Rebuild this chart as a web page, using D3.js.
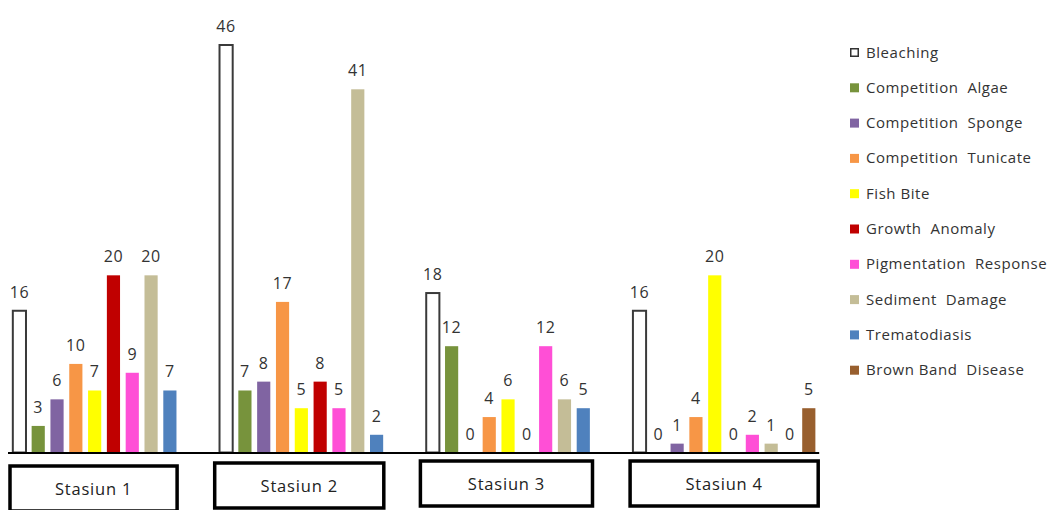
<!DOCTYPE html>
<html>
<head>
<meta charset="utf-8">
<script src="https://cdn.jsdelivr.net/npm/d3@7"></script>
<style>
  html, body { margin: 0; padding: 0; background: #fff; }
  svg { display: block; }
  text { font-family: "Open Sans", "Liberation Sans", sans-serif; }
</style>
</head>
<body>
<svg id="chart" width="1051" height="510"></svg>
<script>
// ---- data ----
const categories = ["Stasiun 1", "Stasiun 2", "Stasiun 3", "Stasiun 4"];
const seriesNames = ["Bleaching", "Competition  Algae", "Competition  Sponge", "Competition  Tunicate",
  "Fish Bite", "Growth  Anomaly", "Pigmentation  Response", "Sediment  Damage", "Trematodiasis", "Brown Band  Disease"];
const bleaching = [16, 46, 18, 16];
const competitionAlgae = [3, 7, 12, 0];
const competitionSponge = [6, 8, 0, 1];
const competitionTunicate = [10, 17, 4, 4];
const fishBite = [7, 5, 6, 20];
const growthAnomaly = [20, 8, 0, 0];
const pigmentationResponse = [9, 5, 12, 2];
const sedimentDamage = [20, 41, 6, 1];
const trematodiasis = [7, 2, 5, 0];
const brownBandDisease = [null, null, null, 5];
const seriesValues = [bleaching, competitionAlgae, competitionSponge, competitionTunicate,
  fishBite, growthAnomaly, pigmentationResponse, sedimentDamage, trematodiasis, brownBandDisease];
const colors = ["#ffffff", "#77933C", "#8064A2", "#F79646", "#FFFF00", "#C00000", "#FF4FD6", "#C4BD97", "#4F81BD", "#985F2E"];

// ---- layout ----
const svg = d3.select("#chart");
const baseY = 452.5;
const x0 = d3.scaleBand().domain(categories).range([0.7, 827.5]).paddingInner(0.09).paddingOuter(0.045);
const x1 = d3.scaleBand().domain(d3.range(seriesNames.length)).range([0, x0.bandwidth()]).paddingInner(0.3).paddingOuter(0.15);
const y = d3.scaleLinear().domain([0, 46]).range([baseY, 45]);

const rows = [];
categories.forEach((c, ci) => {
  seriesValues.forEach((vals, si) => {
    if (vals[ci] !== null) rows.push({ c, si, v: vals[ci] });
  });
});

const g = svg.append("g");
g.selectAll("rect.bar").data(rows).join("rect")
  .attr("class", "bar")
  .attr("x", d => x0(d.c) + x1(d.si))
  .attr("y", d => y(d.v))
  .attr("width", x1.bandwidth())
  .attr("height", d => baseY - y(d.v))
  .attr("fill", d => colors[d.si])
  .attr("stroke", d => d.si === 0 ? "#3a3a3a" : "none")
  .attr("stroke-width", d => d.si === 0 ? 2 : 0);

g.selectAll("text.val").data(rows).join("text")
  .attr("class", "val")
  .attr("x", d => x0(d.c) + x1(d.si) + x1.bandwidth() / 2)
  .attr("y", d => y(d.v) - 13)
  .attr("text-anchor", "middle")
  .attr("font-size", 16)
  .attr("letter-spacing", 0.6)
  .attr("fill", "#333")
  .text(d => d.v);

// baseline axis
svg.append("line")
  .attr("x1", x0(categories[0]) - 2)
  .attr("x2", x0(categories[3]) + x0.bandwidth() + 1)
  .attr("y1", baseY + 0.5).attr("y2", baseY + 0.5)
  .attr("stroke", "#000").attr("stroke-width", 2);

// category boxes (hand-drawn look in original)
const boxWidthTrim = [21, 19, 16, 0];
const boxOffset = [0, -2, -3, 0];
const boxTop = [466, 463, 461, 461];
const boxH = 45;
const boxes = svg.append("g");
categories.forEach((c, i) => {
  const bx = x0(c) + boxOffset[i];
  const bw = x0.bandwidth() - boxWidthTrim[i];
  boxes.append("rect")
    .attr("x", bx).attr("y", boxTop[i])
    .attr("width", bw).attr("height", boxH)
    .attr("fill", "#fff").attr("stroke", "#000").attr("stroke-width", 3.5);
  boxes.append("text")
    .attr("x", bx + bw / 2).attr("y", boxTop[i] + boxH / 2 + 6)
    .attr("text-anchor", "middle")
    .attr("font-size", 16.5)
    .attr("letter-spacing", 0.8)
    .attr("fill", "#222")
    .text(c);
});

// legend
const legend = svg.append("g").attr("transform", "translate(850,52)");
seriesNames.forEach((n, i) => {
  const row = legend.append("g").attr("transform", `translate(0,${i * 35.3})`);
  row.append("rect")
    .attr("x", i === 0 ? 0.75 : 0).attr("y", i === 0 ? -3.25 : -4)
    .attr("width", i === 0 ? 7.5 : 9).attr("height", i === 0 ? 7.5 : 9)
    .attr("fill", colors[i])
    .attr("stroke", i === 0 ? "#333" : "none").attr("stroke-width", 1.5);
  row.append("text")
    .attr("x", 16).attr("y", 5.5)
    .attr("font-size", 15)
    .attr("letter-spacing", 0.55)
    .attr("fill", "#333")
    .attr("xml:space", "preserve")
    .style("white-space", "pre")
    .text(n);
});
</script>
</body>
</html>
